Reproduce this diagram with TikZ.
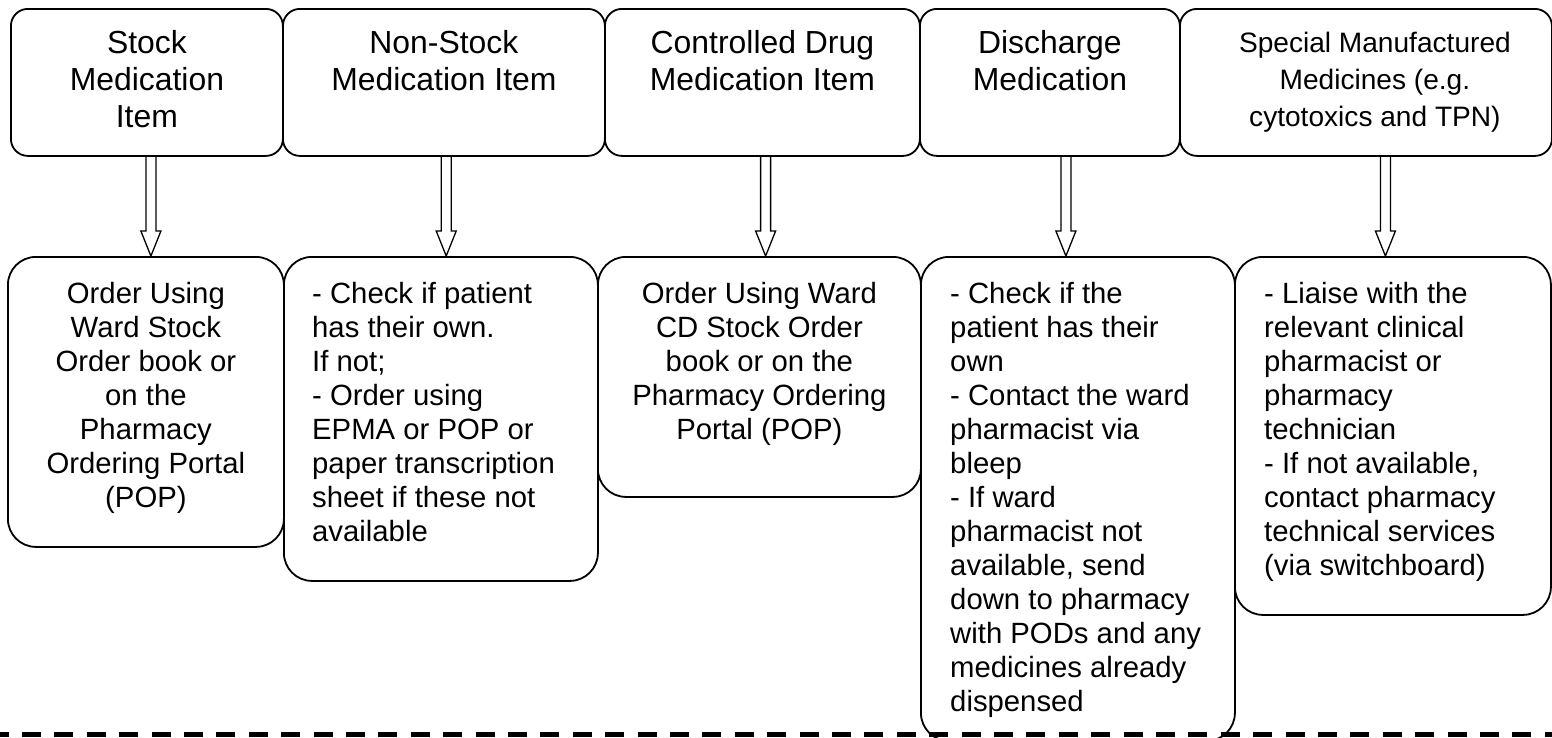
\documentclass[tikz,border=0pt]{standalone}
\usepackage{fontspec}
\setmainfont{Liberation Sans}
\usepackage{tikz}
\usetikzlibrary{calc}

\newcommand{\hollowarrow}[2]{%
  \draw[arrowline] let \p1=(#1), \p2=(#2) in
    (\x1-5pt,\y1) -- (\x1-5pt,\y2+25pt) -- (\x1-10pt,\y2+25pt) -- (\x1,\y2)
    -- (\x1+10pt,\y2+25pt) -- (\x1+5pt,\y2+25pt) -- (\x1+5pt,\y1);}

\begin{document}
\begin{tikzpicture}[x=1pt, y=-1pt,
    headbox/.style={draw, line width=1.8pt, rounded corners=17pt, anchor=north west, minimum height=147pt},
    actbox/.style={draw, line width=1.8pt, rounded corners=28pt, anchor=north west},
    headtext/.style={inner sep=0pt, align=center, font=\fontsize{31.9}{37}\selectfont},
    acttext/.style={inner sep=0pt, font=\fontsize{29.3}{34}\selectfont},
    arrowline/.style={line width=1.3pt, line join=miter}]
    \useasboundingbox (0,0) rectangle (1552,737);

    % Top row: kinds of medication
    \node[headbox, minimum width=272pt] (stock) at (10,8) {};
    \node[headbox, minimum width=322pt] (nonstock) at (282,8) {};
    \node[headbox, minimum width=315pt] (cdrug) at (604,8) {};
    \node[headbox, minimum width=260pt] (discharge) at (919,8) {};
    \node[headbox, minimum width=372pt] (special) at (1179,8) {};

    \node[headtext, anchor=north] (stocktxt) at ([yshift=-21.8pt]stock.north) {Stock\\Medication\\Item};
    \node[headtext, anchor=north] (nonstocktxt) at ([yshift=-21.8pt]nonstock.north) {Non-Stock\\Medication Item};
    \node[headtext, anchor=north] (cdrugtxt) at ([yshift=-21.8pt]cdrug.north) {Controlled Drug\\Medication Item};
    \node[headtext, anchor=north] (dischargetxt) at ([yshift=-22.2pt]discharge.north) {Discharge\\Medication};
    \node[headtext, anchor=north, font=\fontsize{28.1}{37}\selectfont] (specialtxt) at ([xshift=9pt,yshift=-24.2pt]special.north) {Special Manufactured\\Medicines (e.g.\\cytotoxics and TPN)};

    % Bottom row: what to do
    \node[actbox, minimum width=276pt, minimum height=290pt] (stockord) at (7,256) {};
    \node[actbox, minimum width=314pt, minimum height=324pt] (nonstockord) at (283,256) {};
    \node[actbox, minimum width=323pt, minimum height=240pt] (cdord) at (597,256) {};
    \node[actbox, minimum width=314pt, minimum height=484pt] (dischargeord) at (920,256) {};
    \node[actbox, minimum width=316pt, minimum height=358pt] (specialord) at (1234,256) {};

    \node[acttext, align=center, anchor=north] (stockordtxt) at ([yshift=-26pt]stockord.north)
        {Order Using\\Ward Stock\\Order book or\\on the\\Pharmacy\\Ordering Portal\\(POP)};
    \node[acttext, align=left, anchor=north west] (nonstockordtxt) at ([xshift=29pt,yshift=-26pt]nonstockord.north west)
        {- Check if patient\\has their own.\\If not;\\- Order using\\EPMA or POP or\\paper transcription\\sheet if these not\\available};
    \node[acttext, align=center, anchor=north] (cdordtxt) at ([yshift=-26pt]cdord.north)
        {Order Using Ward\\CD Stock Order\\book or on the\\Pharmacy Ordering\\Portal (POP)};
    \node[acttext, align=left, anchor=north west] (dischargeordtxt) at ([xshift=30pt,yshift=-26pt]dischargeord.north west)
        {- Check if the\\patient has their\\own\\- Contact the ward\\pharmacist via\\bleep\\- If ward\\pharmacist not\\available, send\\down to pharmacy\\with PODs and any\\medicines already\\dispensed};
    \node[acttext, align=left, anchor=north west] (specialordtxt) at ([xshift=30pt,yshift=-26.3pt]specialord.north west)
        {- Liaise with the\\relevant clinical\\pharmacist or\\pharmacy\\technician\\- If not available,\\contact pharmacy\\technical services\\(via switchboard)};

    % Hollow arrows
    \hollowarrow{[xshift=4pt]stock.south}{stockord.north}
    \hollowarrow{[xshift=2.3pt]nonstock.south}{nonstockord.north}
    \hollowarrow{[xshift=3.2pt]cdrug.south}{cdord.north}
    \hollowarrow{[xshift=16pt]discharge.south}{dischargeord.north}
    \hollowarrow{[xshift=19.5pt]special.south}{specialord.north}

    % Dashed line at the bottom
    \draw[line width=5pt, dash pattern=on 19pt off 13.4pt, dash phase=10.4pt] (0,734) -- (1552,734);
\end{tikzpicture}
\end{document}
